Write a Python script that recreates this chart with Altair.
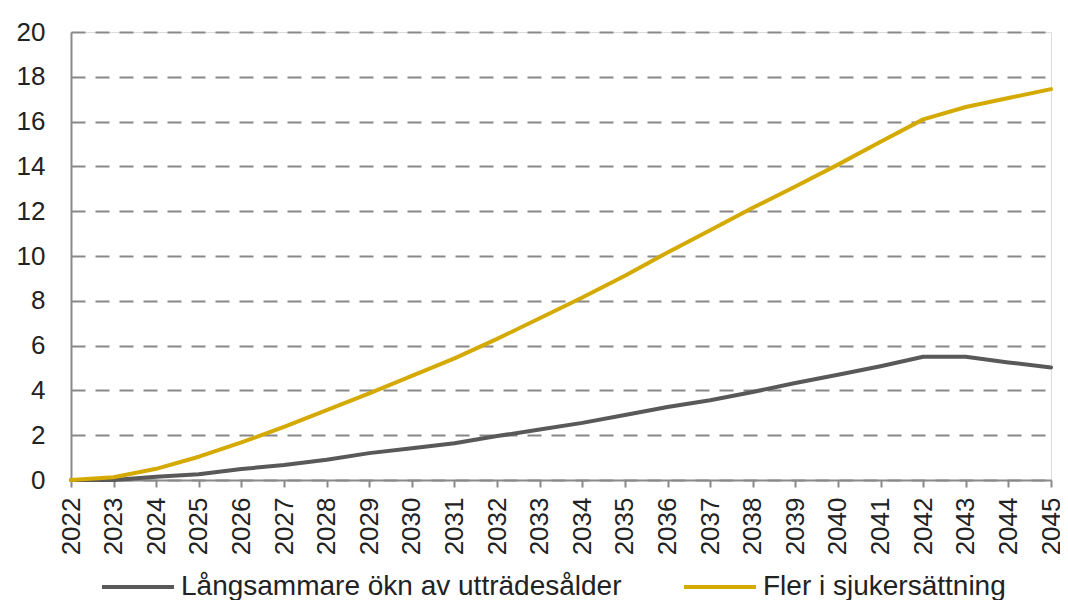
import altair as alt
import pandas as pd

years = list(range(2022, 2046))
series_names = ["Långsammare ökn av utträdesålder", "Fler i sjukersättning"]
gray_values = [0, 0, 0.15, 0.26, 0.49, 0.67, 0.9, 1.2, 1.42, 1.64, 1.96, 2.25,
               2.55, 2.9, 3.26, 3.56, 3.93, 4.33, 4.7, 5.08, 5.5, 5.5, 5.25, 5.02]
gold_values = [0, 0.12, 0.5, 1.04, 1.68, 2.37, 3.12, 3.87, 4.65, 5.43, 6.3, 7.22,
               8.15, 9.12, 10.16, 11.15, 12.15, 13.1, 14.08, 15.1, 16.1, 16.65, 17.05, 17.45]
colors = ["#595959", "#D4A900"]
y_ticks = list(range(0, 21, 2))

df = pd.DataFrame(
    {"year": years * 2,
     "value": gray_values + gold_values,
     "series": [series_names[0]] * len(years) + [series_names[1]] * len(years)}
)

FONT = "Liberation Sans"

color = alt.Color(
    "series:N",
    scale=alt.Scale(domain=series_names, range=colors),
    legend=alt.Legend(
        title=None,
        orient="none",
        legendX=29,
        legendY=517,
        direction="horizontal",
        symbolType="stroke",
        symbolSize=5184,
        symbolStrokeWidth=4,
        labelFont=FONT,
        labelFontSize=28,
        labelColor="#222222",
        labelOffset=5,
        columnPadding=54,
        labelLimit=600,
    ),
)

x = alt.X(
    "year:Q",
    scale=alt.Scale(domain=[2022, 2045], nice=False, zero=False),
    axis=alt.Axis(
        title=None,
        values=years,
        format="d",
        labelAngle=-90,
        labelFont=FONT,
        labelFontSize=26,
        labelColor="#222222",
        labelPadding=10,
        tickSize=7,
        tickColor="#898989",
        tickWidth=2,
        domainColor="#898989",
        domainWidth=2,
        grid=False,
        labelOverlap=False,
        labelFlush=False,
    ),
)

y = alt.Y(
    "value:Q",
    scale=alt.Scale(domain=[0, 20], nice=False),
    axis=alt.Axis(
        title=None,
        values=y_ticks,
        labelFont=FONT,
        labelFontSize=26,
        labelColor="#222222",
        labelPadding=26,
        ticks=False,
        domainColor="#898989",
        domainWidth=2,
        grid=True,
        gridColor="#888888",
        gridWidth=2,
        gridDash=[14, 10],
    ),
)

base = alt.Chart(df).mark_line(strokeWidth=4, strokeCap="round", strokeJoin="round").encode(
    x=x, y=y, color=color
)

gray_line = base.transform_filter(alt.datum.series == series_names[0])
gold_line = base.transform_filter(alt.datum.series == series_names[1])

chart = (
    alt.layer(gray_line, gold_line)
    .properties(
        width=980,
        height=448,
        autosize=alt.AutoSizeParams(type="none"),
        padding={"left": 63, "top": 24, "right": 9, "bottom": 120},
    )
    .configure_view(stroke=None)
    .configure(background="white")
)

chart.save("out.html", embed_options={"renderer": "svg", "actions": False})
